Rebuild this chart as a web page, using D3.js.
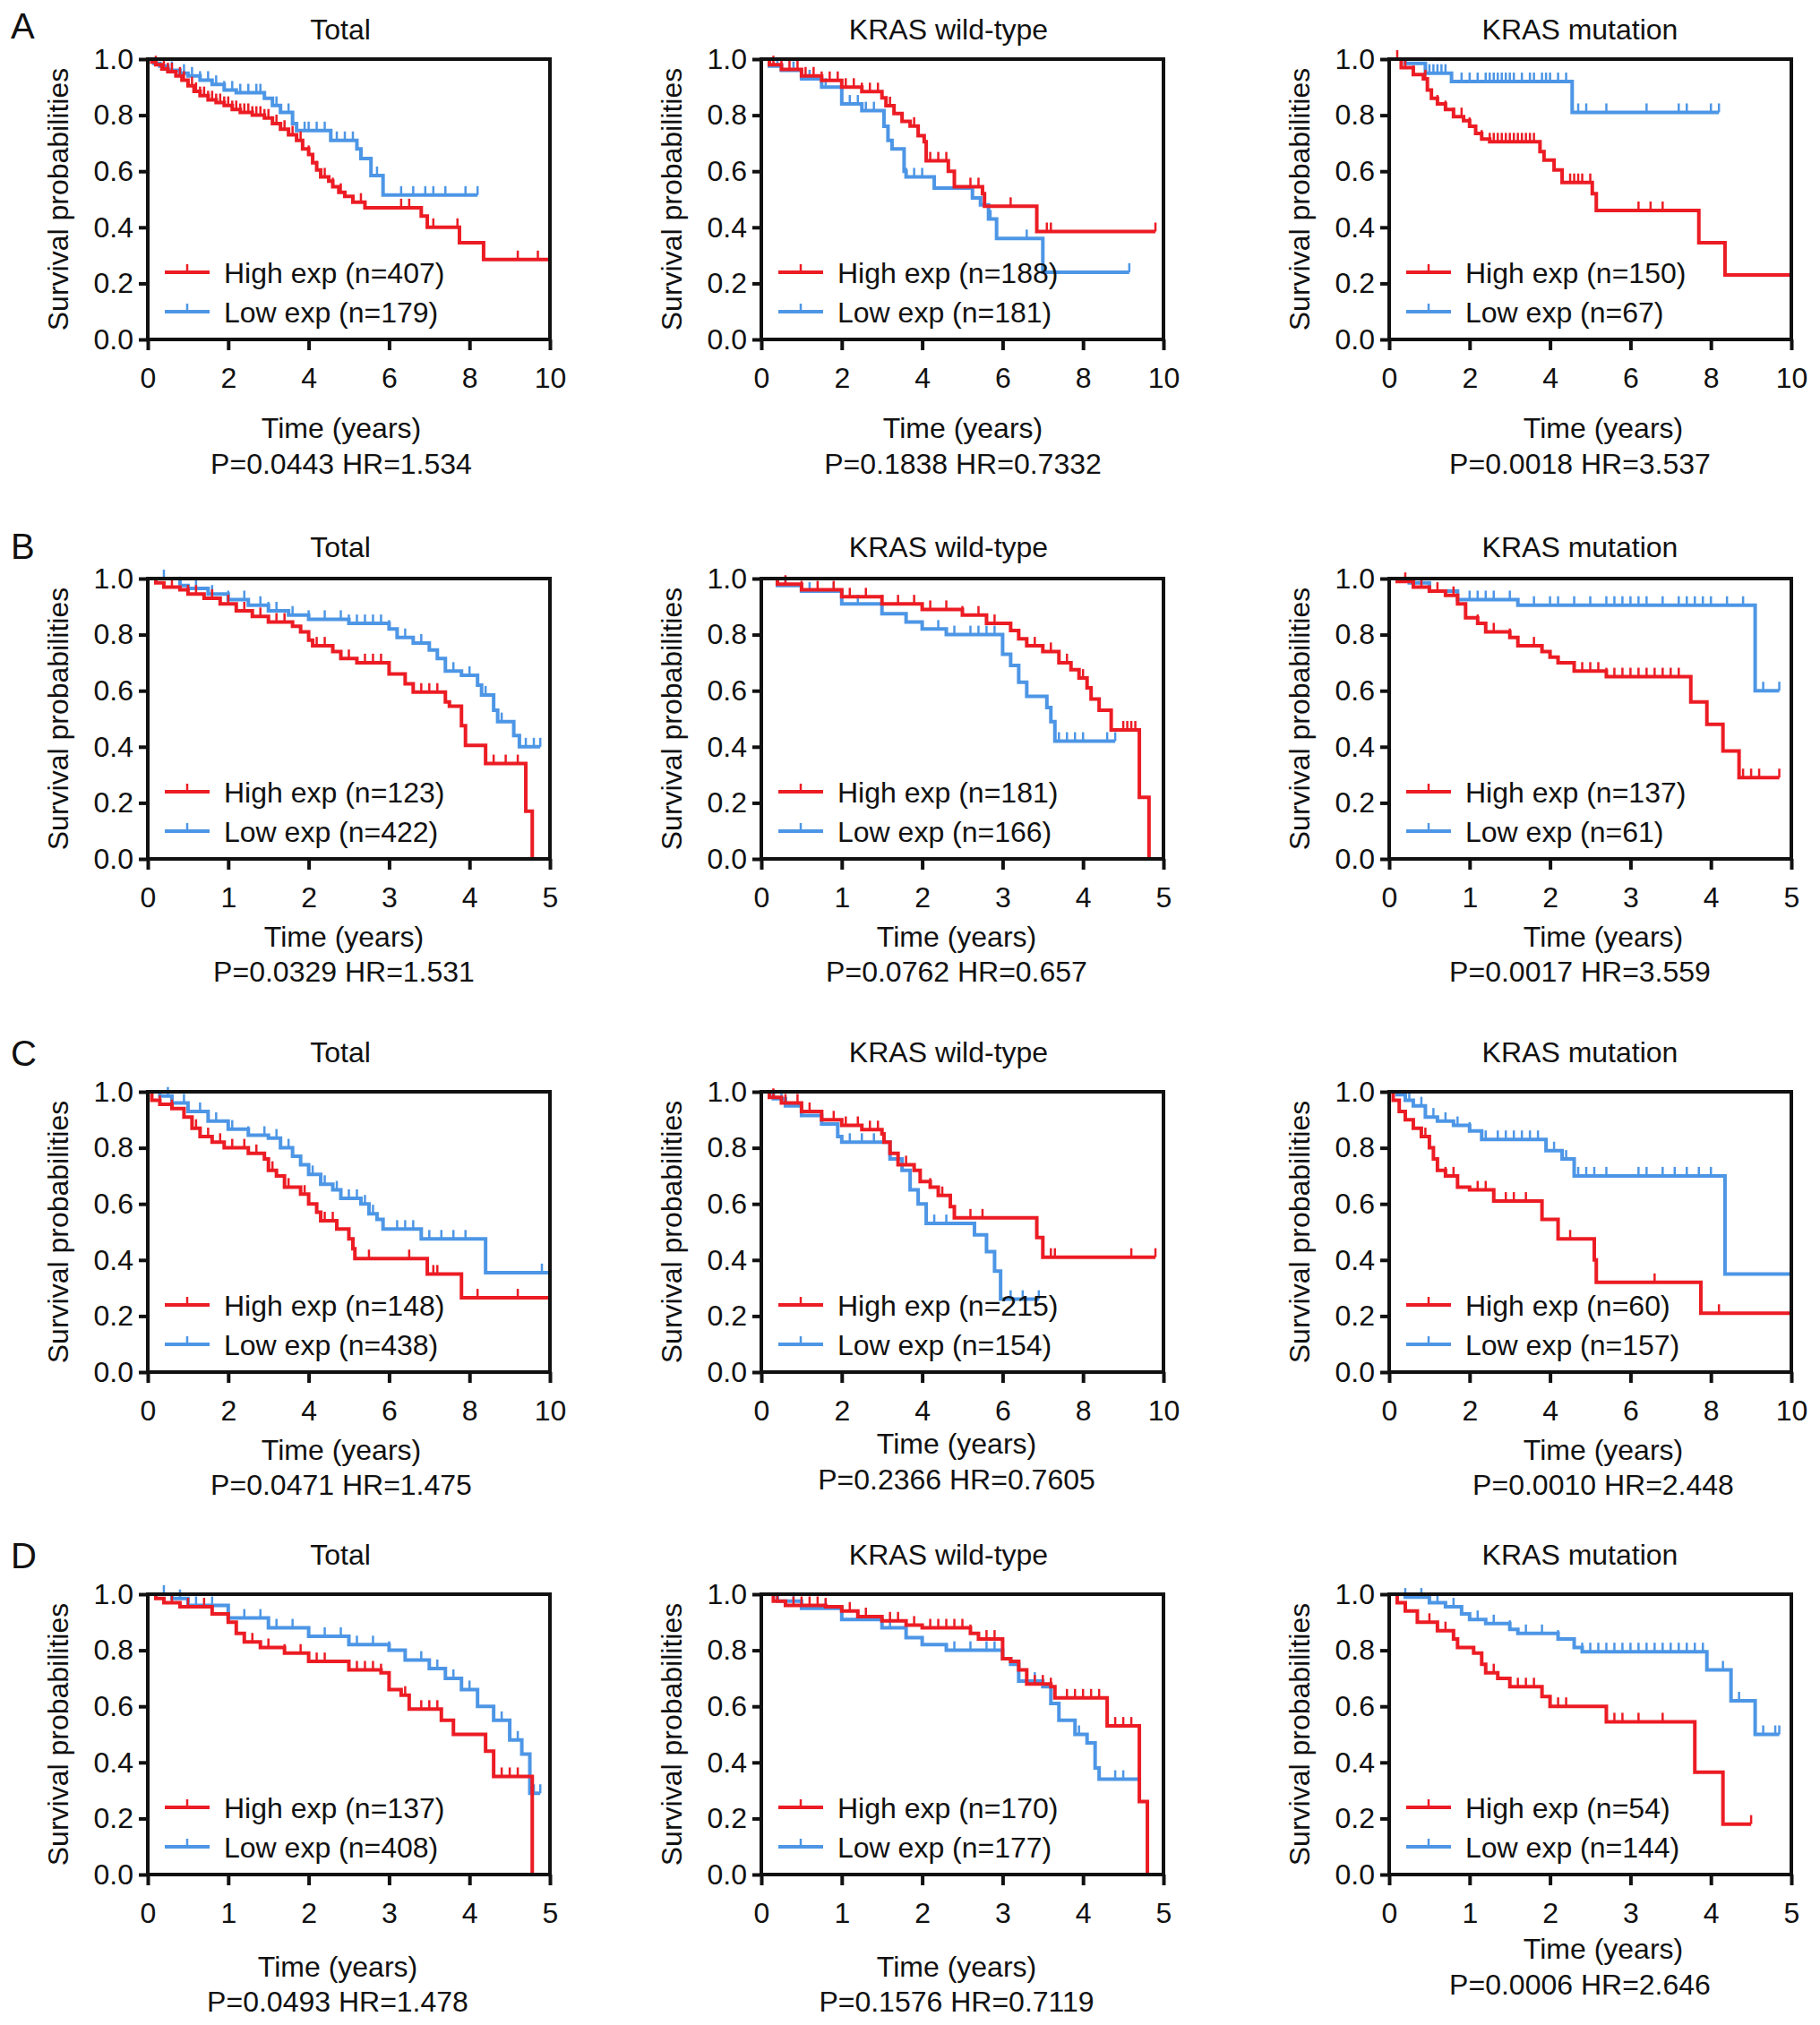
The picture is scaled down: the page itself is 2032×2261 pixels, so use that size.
<!DOCTYPE html>
<html>
<head>
<meta charset="utf-8">
<script src="https://cdn.jsdelivr.net/npm/d3@7"></script>
<style>
  body { margin: 0; background: #fff; }
  text { font-family: "Liberation Sans", Arial, sans-serif; fill: #111; }
</style>
</head>
<body>
<svg id="fig"></svg>
<script>
// ---- data: Kaplan-Meier steps [time, survival] and censor times ----
const rowLetters = ["A", "B", "C", "D"];
const colTitles = ["Total", "KRAS wild-type", "KRAS mutation"];
const rowXMax = [10, 5, 10, 5];
const ticks10 = [0, 2, 4, 6, 8, 10];
const ticks5 = [0, 1, 2, 3, 4, 5];
const yTicks = [0, 0.2, 0.4, 0.6, 0.8, 1.0];

const nHigh = [407, 188, 150, 123, 181, 137, 148, 215, 60, 137, 170, 54];
const nLow  = [179, 181, 67, 422, 166, 61, 438, 154, 157, 408, 177, 144];
const pVals = ["0.0443", "0.1838", "0.0018", "0.0329", "0.0762", "0.0017", "0.0471", "0.2366", "0.0010", "0.0493", "0.1576", "0.0006"];
const hrVals = ["1.534", "0.7332", "3.537", "1.531", "0.657", "3.559", "1.475", "0.7605", "2.448", "1.478", "0.7119", "2.646"];

// A
const aTotHigh = [[0,1],[0.1,0.99],[0.2,0.98],[0.35,0.965],[0.5,0.955],[0.7,0.94],[0.85,0.925],[1.0,0.905],[1.15,0.885],[1.3,0.87],[1.5,0.855],[1.7,0.845],[1.9,0.835],[2.1,0.82],[2.3,0.81],[2.6,0.8],[2.9,0.79],[3.1,0.77],[3.3,0.75],[3.5,0.73],[3.7,0.71],[3.85,0.68],[4.0,0.66],[4.1,0.63],[4.2,0.605],[4.3,0.58],[4.5,0.565],[4.6,0.545],[4.75,0.525],[4.9,0.51],[5.1,0.49],[5.4,0.47],[6.8,0.44],[6.95,0.4],[7.75,0.345],[8.35,0.285]];
const aTotHighC = [0.2,0.4,0.5,0.6,0.8,0.9,1.1,1.2,1.3,1.4,1.5,1.6,1.7,1.8,1.9,2.0,2.1,2.2,2.3,2.4,2.5,2.6,2.7,2.8,2.9,3.0,3.2,3.4,3.6,3.8,4.0,4.2,4.4,4.6,4.8,5.3,6.3,6.5,7.1,7.7,9.2,9.7,10];
const aTotLow = [[0,1],[0.15,0.985],[0.3,0.975],[0.5,0.96],[0.8,0.95],[1.0,0.94],[1.3,0.925],[1.6,0.91],[1.9,0.89],[2.2,0.88],[2.9,0.86],[3.1,0.835],[3.3,0.81],[3.6,0.77],[3.7,0.745],[4.55,0.71],[5.2,0.68],[5.3,0.645],[5.55,0.585],[5.85,0.515]];
const aTotLowC = [0.6,0.9,1.1,1.3,1.5,1.7,1.9,2.1,2.3,2.5,2.7,2.8,3.2,3.5,3.9,4.0,4.2,4.4,4.7,4.9,5.1,5.7,6.3,6.6,6.9,7.1,7.4,7.9,8.2];

const aWtHigh = [[0,1],[0.2,0.98],[0.5,0.963],[1.0,0.94],[1.5,0.924],[2.0,0.9],[2.5,0.884],[3.0,0.862],[3.1,0.834],[3.3,0.806],[3.5,0.778],[3.7,0.761],[3.9,0.727],[4.05,0.705],[4.1,0.637],[4.65,0.6],[4.8,0.545],[5.5,0.52],[5.55,0.475],[6.85,0.385]];
const aWtHighC = [0.3,0.5,0.7,0.9,1.1,1.3,1.5,1.7,1.9,2.1,2.3,2.5,2.7,2.9,3.2,3.5,3.8,4.2,4.4,4.6,5.2,5.4,6.2,7.1,7.2,9.8];
const aWtLow = [[0,1],[0.2,0.975],[0.5,0.96],[1.0,0.93],[1.5,0.9],[2.0,0.84],[2.5,0.816],[3.05,0.76],[3.15,0.71],[3.25,0.68],[3.55,0.6],[3.6,0.58],[4.3,0.54],[5.25,0.505],[5.45,0.48],[5.65,0.43],[5.85,0.36],[7.0,0.24]];
const aWtLowC = [0.4,0.8,1.2,1.6,2.0,2.2,2.4,2.6,2.8,3.6,3.8,4.0,5.7,6.6,9.15];

const aMutHigh = [[0,1],[0.3,0.97],[0.6,0.945],[0.85,0.93],[0.95,0.89],[1.05,0.86],[1.2,0.84],[1.4,0.82],[1.6,0.795],[1.85,0.78],[2.0,0.76],[2.15,0.735],[2.3,0.715],[2.5,0.705],[3.75,0.67],[3.85,0.64],[4.1,0.605],[4.3,0.56],[5.05,0.52],[5.15,0.46],[7.7,0.345],[8.35,0.23]];
const aMutHighC = [0.2,0.4,0.6,0.9,1.2,1.4,1.6,1.8,2.0,2.3,2.5,2.6,2.7,2.8,2.9,3.0,3.1,3.2,3.3,3.4,3.5,3.6,4.5,4.6,4.7,4.8,5.0,6.2,6.5,6.8,7.7,10];
const aMutLow = [[0,1],[0.4,0.985],[0.9,0.95],[1.55,0.92],[4.55,0.81]];
const aMutLowC = [1.0,1.1,1.2,1.3,1.4,1.8,2.0,2.2,2.4,2.5,2.6,2.7,2.8,2.9,3.0,3.1,3.3,3.5,3.6,3.8,3.9,4.0,4.2,4.4,4.7,4.9,5.4,6.4,7.2,7.4,8.0,8.2];

// B
const bTotHigh = [[0,1],[0.1,0.985],[0.2,0.97],[0.4,0.96],[0.5,0.945],[0.7,0.93],[0.9,0.91],[1.1,0.885],[1.3,0.865],[1.5,0.845],[1.8,0.83],[1.9,0.81],[2.0,0.78],[2.05,0.76],[2.3,0.74],[2.4,0.715],[2.6,0.7],[3.0,0.66],[3.2,0.625],[3.3,0.595],[3.7,0.56],[3.75,0.545],[3.9,0.475],[3.95,0.405],[4.2,0.34],[4.7,0.17],[4.78,0]];
const bTotHighC = [0.3,0.5,0.6,0.8,1.0,1.2,1.4,1.6,1.7,2.1,2.2,2.5,2.7,2.8,2.9,3.4,3.5,3.6,4.3,4.45,4.6];
const bTotLow = [[0,1],[0.4,0.975],[0.5,0.965],[0.75,0.945],[1.0,0.925],[1.25,0.905],[1.5,0.885],[1.75,0.87],[2.0,0.855],[2.5,0.84],[3.0,0.82],[3.1,0.79],[3.3,0.77],[3.5,0.745],[3.6,0.715],[3.7,0.67],[3.9,0.655],[4.1,0.62],[4.15,0.585],[4.3,0.53],[4.35,0.49],[4.55,0.44],[4.62,0.4]];
const bTotLowC = [0.2,0.4,0.6,0.8,1.0,1.2,1.4,1.5,1.6,1.8,2.0,2.2,2.4,2.5,2.6,2.7,2.8,2.9,3.0,3.2,3.4,3.6,3.8,4.0,4.2,4.4,4.7,4.8,4.88];

const bWtHigh = [[0,1],[0.2,0.98],[0.5,0.96],[1.0,0.935],[1.5,0.91],[2.0,0.89],[2.5,0.87],[2.8,0.84],[3.1,0.815],[3.2,0.785],[3.3,0.76],[3.5,0.74],[3.7,0.7],[3.85,0.675],[3.95,0.645],[4.05,0.61],[4.1,0.57],[4.2,0.53],[4.35,0.46],[4.7,0.22],[4.82,0]];
const bWtHighC = [0.3,0.5,0.7,0.9,1.1,1.3,1.5,1.7,1.9,2.1,2.3,2.5,2.7,2.9,3.4,3.6,3.8,4.0,4.5,4.55,4.6,4.65];
const bWtLow = [[0,1],[0.2,0.975],[0.5,0.955],[1.0,0.91],[1.5,0.875],[1.8,0.845],[2.0,0.82],[2.3,0.8],[3.0,0.73],[3.1,0.69],[3.2,0.63],[3.3,0.58],[3.55,0.54],[3.6,0.49],[3.65,0.42]];
const bWtLowC = [0.3,0.6,0.9,1.2,1.5,1.8,2.2,2.4,2.6,2.7,2.8,2.9,3.7,3.8,3.9,4.0,4.3,4.4];

const bMutHigh = [[0,1],[0.1,0.99],[0.3,0.97],[0.5,0.955],[0.7,0.94],[0.85,0.91],[0.95,0.86],[1.1,0.84],[1.2,0.81],[1.5,0.79],[1.6,0.76],[1.9,0.74],[2.0,0.72],[2.1,0.7],[2.3,0.67],[2.7,0.65],[3.75,0.56],[3.95,0.48],[4.15,0.385],[4.35,0.29]];
const bMutHighC = [0.2,0.4,0.6,0.8,1.1,1.3,1.5,1.8,2.4,2.5,2.6,2.7,2.8,2.9,3.0,3.1,3.2,3.3,3.4,3.5,3.6,4.4,4.5,4.6,4.85];
const bMutLow = [[0,1],[0.25,0.985],[0.5,0.955],[0.85,0.925],[1.6,0.905],[4.55,0.6]];
const bMutLowC = [1.0,1.1,1.2,1.3,1.5,1.8,2.0,2.1,2.3,2.5,2.7,2.8,2.9,3.0,3.1,3.2,3.4,3.6,3.7,3.8,3.9,4.0,4.2,4.4,4.65,4.85];

// C
const cTotHigh = [[0,1],[0.1,0.97],[0.3,0.955],[0.6,0.94],[0.9,0.91],[1.1,0.87],[1.3,0.84],[1.6,0.82],[1.9,0.8],[2.5,0.78],[2.9,0.76],[3.0,0.72],[3.2,0.7],[3.4,0.66],[3.8,0.635],[4.0,0.6],[4.2,0.57],[4.3,0.54],[4.7,0.51],[5.0,0.475],[5.1,0.44],[5.15,0.405],[6.95,0.35],[7.8,0.265]];
const cTotHighC = [0.3,0.6,0.9,1.2,1.5,1.8,2.1,2.4,2.7,3.1,3.5,3.9,4.4,4.6,5.5,6.5,7.1,7.2,8.2,9.2,10];
const cTotLow = [[0,1],[0.3,0.985],[0.6,0.96],[1.0,0.93],[1.5,0.895],[2.0,0.867],[2.5,0.845],[3.0,0.835],[3.3,0.8],[3.6,0.77],[3.8,0.74],[4.0,0.705],[4.3,0.67],[4.6,0.65],[4.8,0.62],[5.3,0.6],[5.5,0.565],[5.7,0.545],[5.85,0.51],[6.8,0.475],[8.4,0.355]];
const cTotLowC = [0.5,0.9,1.3,1.7,2.1,2.5,2.9,3.2,3.5,3.8,4.1,4.4,4.7,5.0,5.2,5.4,5.6,6.2,6.4,6.6,7.0,7.3,7.6,7.9,9.8,10];

const cWtHigh = [[0,1],[0.2,0.98],[0.5,0.96],[1.0,0.93],[1.5,0.9],[2.0,0.88],[2.5,0.865],[3.0,0.85],[3.05,0.82],[3.2,0.78],[3.4,0.74],[3.8,0.72],[3.95,0.68],[4.2,0.66],[4.4,0.63],[4.7,0.59],[4.8,0.55],[6.85,0.48],[7.0,0.41]];
const cWtHighC = [0.3,0.6,0.9,1.2,1.5,1.8,2.1,2.4,2.7,2.9,3.6,4.2,4.5,5.2,5.5,7.2,7.3,9.2,9.8];
const cWtLow = [[0,1],[0.3,0.975],[0.6,0.95],[1.0,0.915],[1.5,0.885],[1.9,0.84],[2.0,0.82],[3.2,0.76],[3.5,0.72],[3.7,0.65],[3.9,0.6],[4.1,0.53],[5.3,0.49],[5.6,0.43],[5.8,0.36],[5.95,0.26]];
const cWtLowC = [0.5,1.0,1.5,2.2,2.5,2.8,4.3,4.6,6.2,6.5,6.9];

const cMutHigh = [[0,1],[0.1,0.97],[0.25,0.93],[0.4,0.9],[0.6,0.87],[0.8,0.84],[1.0,0.8],[1.1,0.76],[1.2,0.72],[1.4,0.7],[1.7,0.66],[2.0,0.65],[2.6,0.61],[3.8,0.545],[4.2,0.475],[5.1,0.4],[5.15,0.32],[7.75,0.21]];
const cMutHighC = [0.4,0.9,1.4,1.6,2.2,2.4,2.9,3.1,3.4,4.5,6.6,8.2,10];
const cMutLow = [[0,1],[0.2,0.99],[0.4,0.97],[0.6,0.95],[0.9,0.91],[1.2,0.895],[1.6,0.88],[2.0,0.86],[2.3,0.83],[3.9,0.79],[4.3,0.76],[4.6,0.7],[8.35,0.35]];
const cMutLowC = [0.5,0.8,1.1,1.4,1.7,2.0,2.4,2.7,2.9,3.1,3.3,3.5,3.7,4.1,4.4,4.7,4.9,5.1,5.4,6.2,6.4,6.8,7.1,7.4,7.7,8.0,10];

// D
const dTotHigh = [[0,1],[0.1,0.985],[0.2,0.97],[0.4,0.955],[0.8,0.93],[1.0,0.9],[1.1,0.86],[1.2,0.83],[1.4,0.81],[1.7,0.79],[2.0,0.76],[2.5,0.73],[2.9,0.72],[3.0,0.66],[3.15,0.64],[3.25,0.59],[3.65,0.55],[3.8,0.5],[4.2,0.44],[4.3,0.35],[4.78,0]];
const dTotHighC = [0.3,0.5,0.7,1.3,1.5,1.7,1.9,2.1,2.2,2.6,2.7,2.8,2.9,3.2,3.4,3.5,3.6,4.4,4.5,4.6];
const dTotLow = [[0,1],[0.3,0.985],[0.5,0.96],[1.0,0.915],[1.5,0.88],[2.0,0.85],[2.5,0.82],[3.0,0.8],[3.2,0.765],[3.5,0.735],[3.7,0.7],[3.9,0.66],[4.1,0.6],[4.3,0.55],[4.5,0.48],[4.65,0.43],[4.75,0.29]];
const dTotLowC = [0.2,0.4,0.6,0.8,1.0,1.2,1.4,1.6,1.8,2.0,2.2,2.4,2.6,2.8,3.0,3.2,3.4,3.6,3.8,4.0,4.4,4.6,4.8,4.88];

const dWtHigh = [[0,1],[0.15,0.975],[0.3,0.96],[0.8,0.955],[1.0,0.94],[1.2,0.92],[1.5,0.905],[1.8,0.89],[2.0,0.88],[2.6,0.86],[2.7,0.84],[3.0,0.77],[3.1,0.76],[3.2,0.73],[3.3,0.68],[3.6,0.67],[3.65,0.63],[4.3,0.53],[4.7,0.26],[4.8,0]];
const dWtHighC = [0.2,0.4,0.5,0.6,0.7,0.8,1.1,1.3,1.6,1.7,1.9,2.1,2.2,2.3,2.4,2.5,2.6,2.8,2.9,3.4,3.5,3.6,3.8,3.9,4.0,4.1,4.2,4.4,4.5,4.6];
const dWtLow = [[0,1],[0.2,0.975],[0.5,0.95],[1.0,0.91],[1.5,0.88],[1.8,0.845],[2.0,0.82],[2.3,0.8],[3.0,0.77],[3.1,0.75],[3.2,0.69],[3.5,0.67],[3.6,0.61],[3.7,0.55],[3.9,0.5],[4.05,0.47],[4.15,0.38],[4.2,0.34]];
const dWtLowC = [0.4,0.8,1.2,1.6,2.4,2.6,2.8,2.9,3.4,3.6,3.95,4.4,4.5,4.7];

const dMutHigh = [[0,1],[0.1,0.97],[0.2,0.94],[0.35,0.9],[0.6,0.87],[0.8,0.84],[0.85,0.81],[1.05,0.79],[1.15,0.75],[1.2,0.72],[1.35,0.7],[1.5,0.67],[1.9,0.635],[2.0,0.6],[2.7,0.545],[3.8,0.365],[4.15,0.18]];
const dMutHighC = [0.5,0.7,1.3,1.6,1.7,1.8,2.1,2.2,2.7,2.8,2.9,3.1,3.4,4.5];
const dMutLow = [[0,1],[0.2,0.99],[0.5,0.97],[0.7,0.955],[0.9,0.93],[1.0,0.91],[1.2,0.895],[1.5,0.875],[1.6,0.86],[2.1,0.84],[2.3,0.81],[2.4,0.795],[3.95,0.73],[4.25,0.62],[4.55,0.5]];
const dMutLowC = [0.2,0.4,0.6,0.8,1.1,1.3,1.5,1.7,1.9,2.1,2.4,2.5,2.6,2.7,2.8,2.9,3.0,3.1,3.2,3.3,3.4,3.5,3.6,3.7,3.8,3.9,4.15,4.35,4.65,4.8,4.85];

const highSteps = [aTotHigh, aWtHigh, aMutHigh, bTotHigh, bWtHigh, bMutHigh, cTotHigh, cWtHigh, cMutHigh, dTotHigh, dWtHigh, dMutHigh];
const highCens  = [aTotHighC, aWtHighC, aMutHighC, bTotHighC, bWtHighC, bMutHighC, cTotHighC, cWtHighC, cMutHighC, dTotHighC, dWtHighC, dMutHighC];
const lowSteps  = [aTotLow, aWtLow, aMutLow, bTotLow, bWtLow, bMutLow, cTotLow, cWtLow, cMutLow, dTotLow, dWtLow, dMutLow];
const lowCens   = [aTotLowC, aWtLowC, aMutLowC, bTotLowC, bWtLowC, bMutLowC, cTotLowC, cWtLowC, cMutLowC, dTotLowC, dWtLowC, dMutLowC];

// ---- layout ----
const W = 2032, H = 2261;
const colLeft = [165, 850, 1551];
const rowTop = [66, 646, 1219, 1780];
const pw = 449, ph = 313;
const titleX = [380, 1059, 1764];
const titleY = [32, 610, 1174, 1735];
const letterY = [29, 610, 1176, 1737];
// time label / P label offsets below plot bottom, per panel
const timeDy = [98, 98, 98, 86, 86, 86, 86, 79, 86, 102, 102, 82];
const pDy    = [138, 138, 138, 125, 125, 125, 125, 119, 125, 141, 141, 122];
const labelX = [381, 1075, 1790, 384, 1068, 1790, 381, 1068, 1790, 377, 1068, 1790];
const pX     = [381, 1075, 1764, 384, 1068, 1764, 381, 1068, 1790, 377, 1068, 1764];

const RED = "#ec1c24", BLUE = "#4d96e6";
const FS = 32;

const svg = d3.select("#fig").attr("width", W).attr("height", H);
svg.append("rect").attr("width", W).attr("height", H).attr("fill", "#fff");

function survAt(steps, t) {
  let s = 1;
  for (const p of steps) { if (p[0] <= t) s = p[1]; else break; }
  return s;
}

function drawCurve(g, x, y, steps, cens, color) {
  const last = steps[steps.length - 1];
  const end = Math.max(last[0], cens.length ? cens[cens.length - 1] : 0);
  const pts = steps.concat([[end, last[1]]]);
  const line = d3.line().x(d => x(d[0])).y(d => y(d[1])).curve(d3.curveStepAfter);
  g.append("path").datum(pts)
    .attr("d", line).attr("fill", "none")
    .attr("stroke", color).attr("stroke-width", 4);
  g.selectAll(null).data(cens).enter().append("line")
    .attr("x1", d => x(d)).attr("x2", d => x(d))
    .attr("y1", d => y(survAt(steps, d)))
    .attr("y2", d => y(survAt(steps, d)) - 10)
    .attr("stroke", color).attr("stroke-width", 2.5);
}

rowLetters.forEach((L, r) => {
  svg.append("text").attr("x", 12).attr("y", letterY[r]).attr("dy", "0.36em")
    .style("font-size", "40px").text(L);
  colTitles.forEach((title, c) => {
    const i = r * 3 + c;
    const left = colLeft[c], top = rowTop[r];
    const g = svg.append("g").attr("transform", `translate(${left},${top})`);
    const x = d3.scaleLinear().domain([0, rowXMax[r]]).range([0, pw]);
    const y = d3.scaleLinear().domain([0, 1]).range([ph, 0]);

    svg.append("text").attr("x", titleX[c]).attr("y", titleY[r]).attr("dy", "0.36em")
      .attr("text-anchor", "middle").style("font-size", FS + "px").text(title);

    const yAx = g.append("g")
      .call(d3.axisLeft(y).tickValues(yTicks).tickFormat(d3.format(".1f")).tickSize(10).tickPadding(6));
    const xAx = g.append("g").attr("transform", `translate(0,${ph})`)
      .call(d3.axisBottom(x).tickValues(rowXMax[r] === 10 ? ticks10 : ticks5)
        .tickFormat(d3.format("d")).tickSize(12).tickPadding(19));
    [yAx, xAx].forEach(a => {
      a.select(".domain").remove();
      a.selectAll(".tick line").attr("stroke", "#111").attr("stroke-width", 4);
      a.selectAll(".tick text").style("font-size", FS + "px").attr("fill", "#111");
    });

    drawCurve(g, x, y, lowSteps[i], lowCens[i], BLUE);
    drawCurve(g, x, y, highSteps[i], highCens[i], RED);

    g.append("rect").attr("width", pw).attr("height", ph)
      .attr("fill", "none").attr("stroke", "#111").attr("stroke-width", 4);

    // legend
    const leg = [[`High exp (n=${nHigh[i]})`, RED, ph - 75], [`Low exp (n=${nLow[i]})`, BLUE, ph - 31]];
    leg.forEach(([txt, col, ly]) => {
      g.append("line").attr("x1", 19).attr("x2", 69).attr("y1", ly).attr("y2", ly)
        .attr("stroke", col).attr("stroke-width", 4);
      g.append("line").attr("x1", 44).attr("x2", 44).attr("y1", ly).attr("y2", ly - 9)
        .attr("stroke", col).attr("stroke-width", 2.5);
      g.append("text").attr("x", 85).attr("y", ly).attr("dy", "0.36em")
        .style("font-size", FS + "px").text(txt);
    });

    // y label
    svg.append("text")
      .attr("transform", `translate(${left - 101},${top + ph / 2}) rotate(-90)`)
      .attr("dy", "0.36em").attr("text-anchor", "middle")
      .style("font-size", FS + "px").text("Survival probabilities");

    svg.append("text").attr("x", labelX[i]).attr("y", top + ph + timeDy[i]).attr("dy", "0.36em")
      .attr("text-anchor", "middle").style("font-size", FS + "px").text("Time (years)");
    svg.append("text").attr("x", pX[i]).attr("y", top + ph + pDy[i]).attr("dy", "0.36em")
      .attr("text-anchor", "middle").style("font-size", FS + "px").text(`P=${pVals[i]} HR=${hrVals[i]}`);
  });
});
</script>
</body>
</html>
